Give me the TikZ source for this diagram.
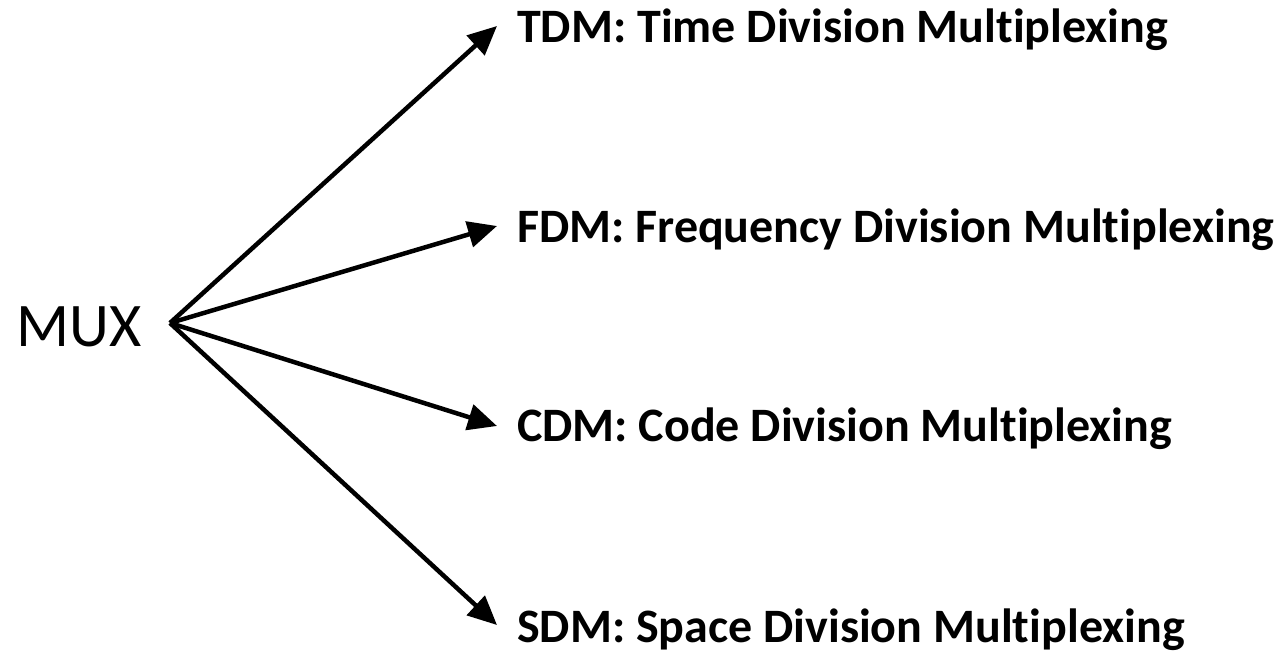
\documentclass[tikz,border=0pt]{standalone}
\usepackage{fontspec}
\setmainfont{Carlito}[Ligatures=NoCommon]
\usetikzlibrary{arrows.meta}
\tikzset{
  lbl/.style={anchor=base west, inner sep=0pt, font=\fontsize{48}{54}\selectfont\bfseries},
  muxlbl/.style={anchor=base west, inner sep=0pt, font=\fontsize{62}{70}\selectfont},
  conn/.style={line width=4.5pt, -{Triangle[length=29pt,width=26pt]}}
}
\begin{document}
\begin{tikzpicture}[x=1pt,y=-1pt]
\useasboundingbox (0,0) rectangle (1281,654);
\node[muxlbl] (mux) at (16,346) {MUX};
\node[lbl] (tdm) at (517,42) {TDM: Time Division Multiplexing};
\node[lbl] (fdm) at (517,242) {FDM: Frequency Division Multiplexing};
\node[lbl] (cdm) at (517,441) {CDM: Code Division Multiplexing};
\node[lbl] (sdm) at (517,642) {SDM: Space Division Multiplexing};
\coordinate (v) at (170,323);
\coordinate (tT) at (497,26);
\coordinate (tF) at (497,226);
\coordinate (tC) at (497,426);
\coordinate (tS) at (497,625);
\draw[conn] (v) -- (tT);
\draw[conn] (v) -- (tF);
\draw[conn] (v) -- (tC);
\draw[conn] (v) -- (tS);
\end{tikzpicture}
\end{document}
